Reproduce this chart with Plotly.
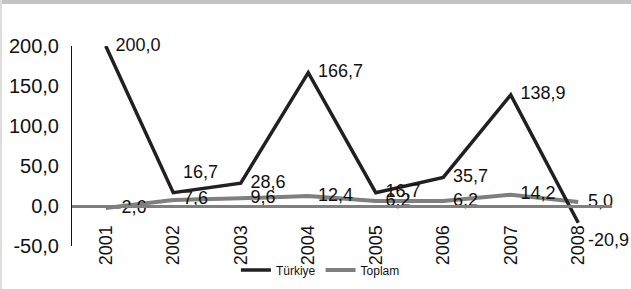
import plotly.graph_objects as go

years = ["2001", "2002", "2003", "2004", "2005", "2006", "2007", "2008"]
turkiye = [200.0, 16.7, 28.6, 166.7, 16.7, 35.7, 138.9, -20.9]
toplam = [-2.6, 7.6, 9.6, 12.4, 6.2, 6.2, 14.2, 5.0]
y_ticks = [-50, 0, 50, 100, 150, 200]
y_tick_text = ["-50,0", "0,0", "50,0", "100,0", "150,0", "200,0"]

def fmt(v):
    return f"{v:.1f}".replace(".", ",")

W, H = 631, 289
L, R, T, B = 72, 19, 46, 43
pw, ph = W - L - R, H - T - B

tk_pos = ["middle right", "top right", "middle right", "middle right",
          "middle right", "middle right", "middle right", "bottom right"]

clear = "rgba(0,0,0,0)"

fig = go.Figure()
fig.add_trace(go.Scatter(
    x=years, y=toplam, name="Toplam", mode="lines+markers+text",
    line=dict(color="#7f7f7f", width=4),
    marker=dict(size=14, color=clear, line=dict(width=0, color=clear)),
    text=[fmt(v) for v in toplam], textposition="middle right",
    textfont=dict(family="Liberation Sans, Arial, sans-serif", size=18, color="#111111"),
    cliponaxis=False,
))
fig.add_trace(go.Scatter(
    x=years, y=turkiye, name="Türkiye", mode="lines+markers+text",
    line=dict(color="#231f20", width=3.5),
    marker=dict(size=14, color=clear, line=dict(width=0, color=clear)),
    text=[fmt(v) for v in turkiye], textposition=tk_pos,
    textfont=dict(family="Liberation Sans, Arial, sans-serif", size=18, color="#111111"),
    cliponaxis=False,
))

# frame decoration (top shadow band, left light border)
shapes = [
    dict(type="rect", xref="paper", yref="paper",
         x0=-L / pw, x1=1 + R / pw, y0=1 + (T - 4) / ph, y1=1 + T / ph,
         fillcolor="#c4c4c4", line=dict(width=0), layer="above"),
    dict(type="rect", xref="paper", yref="paper",
         x0=-L / pw, x1=-(L - 2) / pw, y0=-B / ph, y1=1 + T / ph,
         fillcolor="#dddddd", line=dict(width=0), layer="above"),
]

fig.update_layout(
    width=W, height=H,
    margin=dict(l=L, r=R, t=T, b=B, pad=0, autoexpand=False),
    paper_bgcolor="white", plot_bgcolor="white",
    font=dict(family="Liberation Sans, Arial, sans-serif", color="#111111"),
    showlegend=True,
    legend=dict(orientation="h", x=0.46, xanchor="center", y=-0.12, yanchor="middle",
                traceorder="reversed",
                font=dict(family="Liberation Sans Narrow, Arial Narrow, Liberation Sans, sans-serif", size=12),
                itemwidth=30, bgcolor="rgba(0,0,0,0)"),
    xaxis=dict(type="category", anchor="free", position=0.2, automargin=False,
               showline=True, linecolor="#7f7f7f", linewidth=3,
               showgrid=False, zeroline=False, ticks="",
               tickangle=-90, ticklabelstandoff=10,
               tickfont=dict(size=18, color="#111111"),
               range=[-0.5, 7.5]),
    yaxis=dict(range=[-50, 200], tickvals=y_ticks, ticktext=y_tick_text, automargin=False,
               showline=True, linecolor="#111111", linewidth=1,
               showgrid=False, zeroline=False, ticks="", ticklabelstandoff=8,
               tickfont=dict(size=20, color="#111111")),
    shapes=shapes,
)

fig.write_html("out.html", config={"displayModeBar": False},
               post_script="document.body.style.margin='0';document.body.style.overflow='hidden';")
